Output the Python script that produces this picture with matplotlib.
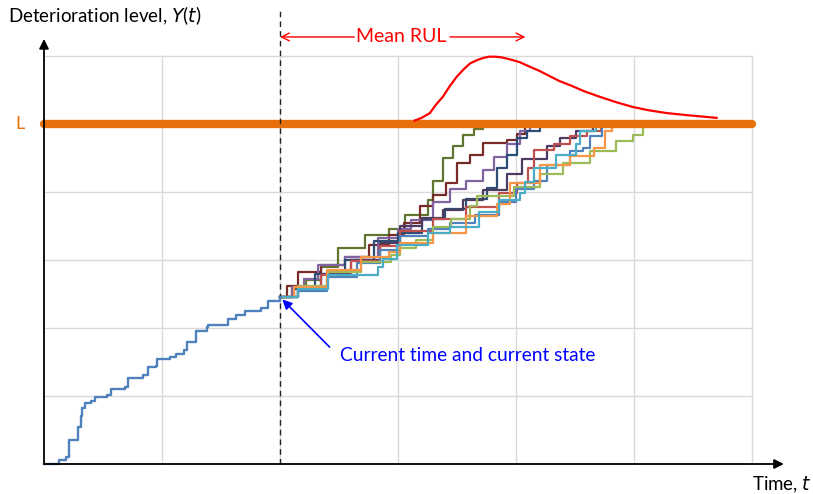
import matplotlib
matplotlib.use("Agg")
import matplotlib.pyplot as plt

# ---------------- data ----------------
threshold_L = 5.0
t_current = 2.0
grid_ticks = [0, 1, 2, 3, 4, 5, 6]

# observed degradation path up to the current time
obs_t = [0.0, 0.11, 0.13, 0.19, 0.21, 0.26, 0.29, 0.31, 0.32, 0.35, 0.40, 0.43, 0.53, 0.57,
         0.69, 0.71, 0.84, 0.88, 0.95, 0.96, 1.07, 1.12, 1.19, 1.21, 1.29, 1.29, 1.38, 1.39,
         1.52, 1.56, 1.63, 1.70, 1.84, 1.90, 1.96, 2.00]
obs_y = [0.0, 0.0, 0.06, 0.10, 0.35, 0.36, 0.55, 0.70, 0.83, 0.89, 0.93, 0.98, 1.01, 1.11,
         1.13, 1.27, 1.31, 1.43, 1.44, 1.54, 1.57, 1.62, 1.67, 1.80, 1.83, 1.95, 2.02, 2.05,
         2.05, 2.13, 2.19, 2.25, 2.29, 2.39, 2.40, 2.45]

# simulated future paths from the current state until they reach L
olive_t = [2.0, 2.10, 2.22, 2.35, 2.49, 2.72, 2.92, 3.06, 3.25, 3.30, 3.38, 3.47, 3.55, 3.64, 3.72]
olive_y = [2.45, 2.58, 2.70, 2.90, 3.17, 3.37, 3.46, 3.66, 3.88, 4.16, 4.50, 4.67, 4.84, 4.92, 5.0]

darkred_t = [2.0, 2.06, 2.15, 2.35, 2.55, 2.75, 2.92, 3.05, 3.19, 3.30, 3.41, 3.50, 3.61, 3.72, 3.92, 4.01, 4.08]
darkred_y = [2.45, 2.62, 2.83, 2.92, 3.05, 3.22, 3.37, 3.55, 3.80, 3.95, 4.13, 4.42, 4.55, 4.72, 4.77, 4.86, 5.0]

purple_t = [2.0, 2.10, 2.20, 2.32, 2.55, 2.83, 3.00, 3.11, 3.30, 3.44, 3.58, 3.72, 3.81, 3.92, 4.03, 4.12]
purple_y = [2.45, 2.60, 2.72, 2.93, 3.05, 3.32, 3.45, 3.59, 3.85, 4.05, 4.16, 4.32, 4.52, 4.70, 4.90, 5.0]

darkblue_t = [2.0, 2.12, 2.30, 2.55, 2.80, 3.00, 3.20, 3.40, 3.58, 3.75, 3.84, 3.92, 4.01, 4.09, 4.20]
darkblue_y = [2.45, 2.58, 2.80, 3.00, 3.28, 3.40, 3.60, 3.75, 3.90, 4.06, 4.35, 4.55, 4.79, 4.90, 5.0]

darkpurple_t = [2.0, 2.15, 2.35, 2.60, 2.85, 3.02, 3.20, 3.38, 3.55, 3.72, 3.92, 4.05, 4.26, 4.37, 4.51, 4.65]
darkpurple_y = [2.45, 2.60, 2.80, 3.00, 3.25, 3.50, 3.62, 3.74, 3.88, 4.03, 4.27, 4.48, 4.68, 4.79, 4.90, 5.0]

red_t = [2.0, 2.15, 2.35, 2.60, 2.85, 3.02, 3.30, 3.58, 3.86, 4.01, 4.10, 4.15, 4.32, 4.46, 4.60, 4.72]
red_y = [2.45, 2.58, 2.78, 2.98, 3.20, 3.42, 3.60, 3.78, 3.98, 4.13, 4.35, 4.62, 4.70, 4.82, 4.90, 5.0]

blue_t = [2.0, 2.15, 2.40, 2.65, 2.85, 3.02, 3.25, 3.44, 3.65, 3.86, 4.00, 4.15, 4.26, 4.46, 4.57, 4.63, 4.73]
blue_y = [2.45, 2.55, 2.75, 2.95, 3.15, 3.35, 3.45, 3.54, 3.66, 3.85, 4.05, 4.16, 4.40, 4.60, 4.65, 4.82, 5.0]

green_t = [2.0, 2.15, 2.41, 2.69, 2.94, 3.02, 3.15, 3.30, 3.45, 3.61, 3.67, 3.98, 4.20, 4.40, 4.63, 4.85, 4.99, 5.08]
green_y = [2.45, 2.62, 2.83, 2.97, 3.07, 3.17, 3.30, 3.49, 3.60, 3.79, 3.94, 4.08, 4.27, 4.43, 4.60, 4.75, 4.84, 5.0]

orange_t = [2.0, 2.12, 2.40, 2.69, 2.92, 3.02, 3.30, 3.58, 3.84, 3.95, 4.20, 4.46, 4.66, 4.75, 4.81]
orange_y = [2.45, 2.60, 2.85, 3.05, 3.12, 3.25, 3.39, 3.64, 3.83, 4.13, 4.40, 4.53, 4.65, 4.90, 5.0]

aqua_t = [2.0, 2.15, 2.41, 2.83, 2.87, 2.99, 3.25, 3.44, 3.69, 3.86, 4.03, 4.08, 4.15, 4.34, 4.51, 4.54, 4.68]
aqua_y = [2.45, 2.58, 2.78, 2.90, 3.02, 3.22, 3.39, 3.49, 3.71, 3.88, 3.98, 4.15, 4.35, 4.55, 4.70, 4.90, 5.0]

# RUL density curve drawn above the threshold
rul_t = [3.14, 3.20, 3.27, 3.32, 3.38, 3.44, 3.50, 3.56, 3.61, 3.67, 3.72, 3.77, 3.82, 3.88,
         3.95, 4.03, 4.12, 4.20, 4.29, 4.37, 4.46, 4.58, 4.71, 4.85, 4.99, 5.13, 5.28, 5.45, 5.70]
rul_y = [5.05, 5.09, 5.16, 5.28, 5.40, 5.56, 5.70, 5.81, 5.89, 5.94, 5.97, 5.99, 5.99, 5.98,
         5.95, 5.91, 5.84, 5.78, 5.70, 5.63, 5.57, 5.48, 5.40, 5.32, 5.25, 5.20, 5.16, 5.13, 5.09]
mean_rul_end = 4.08

# ---------------- drawing ----------------
W, H = 813, 494
fig = plt.figure(figsize=(W / 100, H / 100), dpi=100)
ax = fig.add_axes([0, 0, 1, 1])
x0px, y0px, sx, sy = 44, 464, 118, 68
ax.set_xlim(-x0px / sx, (W - x0px) / sx)
ax.set_ylim(-(H - y0px) / sy, y0px / sy)
ax.axis("off")

font = ["Lato", "DejaVu Sans"]
grid_c = "#D9D9D9"
for g in grid_ticks[1:]:
    ax.plot([g, g], [0, 6], color=grid_c, lw=1.0, zorder=1)
    ax.plot([0, 6], [g, g], color=grid_c, lw=1.0, zorder=1)

# axes with arrows
ax.annotate("", xy=(0, 6.25), xytext=(0, 0),
            arrowprops=dict(arrowstyle="-|>", color="black", lw=1.3,
                            mutation_scale=14, shrinkA=0, shrinkB=0), zorder=5)
ax.annotate("", xy=(6.27, 0), xytext=(0, 0),
            arrowprops=dict(arrowstyle="-|>", color="black", lw=1.3,
                            mutation_scale=14, shrinkA=0, shrinkB=0), zorder=5)

# current time dashed line
ax.plot([t_current, t_current], [0, 6.7], color="#222222", lw=1.0,
        ls=(0, (4, 3)), zorder=4)

# threshold
ax.plot([0, 6.0], [threshold_L, threshold_L], color="#E8700C", lw=6.0,
        solid_capstyle="round", zorder=3)
ax.text(-0.2, threshold_L, "L", color="#E8700C", fontsize=13, family=font,
        ha="center", va="center")

# observed path
ax.plot(obs_t, obs_y, color="#4F81BD", lw=1.7, drawstyle="steps-post", zorder=4)

sims = [
    (olive_t, olive_y, "#5F7530"),
    (darkred_t, darkred_y, "#772C2A"),
    (purple_t, purple_y, "#8064A2"),
    (darkblue_t, darkblue_y, "#2C4D75"),
    (darkpurple_t, darkpurple_y, "#4D3B62"),
    (red_t, red_y, "#C0504D"),
    (blue_t, blue_y, "#4F81BD"),
    (green_t, green_y, "#9BBB59"),
    (orange_t, orange_y, "#F79646"),
    (aqua_t, aqua_y, "#4BACC6"),
]
for ts, ys, c in sims:
    ax.plot(ts, ys, color=c, lw=1.6, zorder=2, drawstyle="steps-post")

# RUL density
ax.plot(rul_t, rul_y, color="#FF0000", lw=1.6, zorder=4)

# mean RUL annotation
y_m = 6.28
ax.text(3.03, y_m, "Mean RUL", color="#FF0000", fontsize=14, family=font,
        ha="center", va="center")
ax.annotate("", xy=(t_current, y_m), xytext=(2.63, y_m),
            arrowprops=dict(arrowstyle="->", color="#FF0000", lw=1.0,
                            mutation_scale=14, shrinkA=0, shrinkB=0))
ax.annotate("", xy=(mean_rul_end, y_m), xytext=(3.44, y_m),
            arrowprops=dict(arrowstyle="->", color="#FF0000", lw=1.0,
                            mutation_scale=14, shrinkA=0, shrinkB=0))

# current state annotation
ax.annotate("", xy=(t_current + 0.02, obs_y[-1] - 0.03), xytext=(2.42, 1.72),
            arrowprops=dict(arrowstyle="-|>", color="#0000FF", lw=1.2,
                            mutation_scale=14, shrinkA=0, shrinkB=0), zorder=6)
ax.text(2.51, 1.59, "Current time and current state", color="#0000FF",
        fontsize=13.8, family=font, ha="left", va="center")

# axis labels
ax.text((8 - x0px) / sx, (y0px - 16) / sy, "Deterioration level, $\\mathit{Y}$($\\mathit{t}$)",
        fontsize=13.5, family=font, ha="left", va="center")
ax.text((752 - x0px) / sx, (y0px - 485) / sy, "Time, $\\mathit{t}$",
        fontsize=13.5, family=font, ha="left", va="center")

fig.savefig("out.png", dpi=100)
